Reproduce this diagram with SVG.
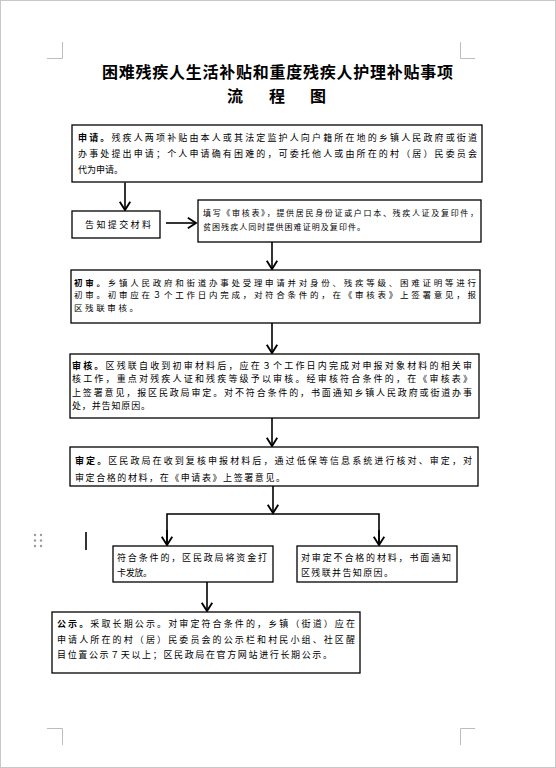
<svg xmlns="http://www.w3.org/2000/svg" width="556" height="768" viewBox="0 0 556 768">
<style>
.page{fill:#fff;stroke:#c8c8c8;stroke-width:1}
.crop{fill:none;stroke:#bdbdbd;stroke-width:1}
.box{fill:#fff;stroke:#000;stroke-width:1.3}
.t{font-family:"Noto Sans CJK SC","Noto Sans",sans-serif;fill:#000;font-size:9px}
.m{font-size:8.5px}
.s{font-size:8px}
.b{font-weight:bold}
.title{font-family:"Noto Sans CJK SC","Noto Sans",sans-serif;font-weight:bold;font-size:16px;fill:#000}
.c{fill:none;stroke:#000;stroke-width:1.6}
</style>
<defs>
<marker id="ah" markerUnits="userSpaceOnUse" markerWidth="14" markerHeight="14" viewBox="-10 -6 12 12" refX="0" refY="0" orient="auto">
<path d="M-7,-4.5 L0,0 L-7,4.5" fill="none" stroke="#000" stroke-width="1.6"/>
</marker>
</defs>
<rect class="page" x="0.5" y="0.5" width="555" height="767"/>
<g id="cropmarks">
<path class="crop" d="M62.5,42 V58.5 H47 M460.5,42 V58.5 H475 M62.5,745 V728.5 H47 M460.5,745 V728.5 H475"/>
</g>
<g id="title">
<text class="title" x="102" y="78" textLength="351" lengthAdjust="spacing">困难残疾人生活补贴和重度残疾人护理补贴事项</text>
<text class="title" x="227 269 310" y="102">流程图</text>
</g>
<g id="connectors">
<line class="c" x1="125" y1="182.5" x2="125" y2="210" marker-end="url(#ah)"/>
<line class="c" x1="166" y1="223" x2="196" y2="223" marker-end="url(#ah)"/>
<line class="c" x1="272" y1="242" x2="272" y2="269" marker-end="url(#ah)"/>
<line class="c" x1="272" y1="323" x2="272" y2="353" marker-end="url(#ah)"/>
<line class="c" x1="272" y1="418" x2="272" y2="446" marker-end="url(#ah)"/>
<line class="c" x1="273" y1="486" x2="273" y2="513" marker-end="url(#ah)"/>
<polyline class="c" points="167,545 167,514 379,514 379,545" stroke-width="1.4"/>
<line class="c" x1="167" y1="530" x2="167" y2="545" marker-end="url(#ah)"/>
<line class="c" x1="379" y1="530" x2="379" y2="545" marker-end="url(#ah)"/>
<line class="c" x1="207" y1="582" x2="207" y2="611" marker-end="url(#ah)"/>
</g>
<g id="n_apply">
<rect class="box" x="72" y="125" width="410" height="57"/>
<text class="t" x="78" y="140.5" textLength="399" lengthAdjust="spacing"><tspan class="b">申请。</tspan>残疾人两项补贴由本人或其法定监护人向户籍所在地的乡镇人民政府或街道</text>
<text class="t" x="78" y="156.5" textLength="399" lengthAdjust="spacing">办事处提出申请；个人申请确有困难的，可委托他人或由所在的村（居）民委员会</text>
<text class="t" x="78" y="172.5" textLength="45" lengthAdjust="spacing">代为申请。</text>
</g>
<g id="n_notify">
<rect class="box" x="72" y="211" width="88" height="27"/>
<text class="t" x="85" y="228" font-size="11" textLength="66" lengthAdjust="spacing">告知提交材料</text>
</g>
<g id="n_materials">
<rect class="box" x="198" y="200" width="283" height="42"/>
<text class="t s" x="203" y="216" textLength="275" lengthAdjust="spacing">填写《审核表》，提供居民身份证或户口本、残疾人证及复印件，</text>
<text class="t s" x="203" y="230" textLength="162" lengthAdjust="spacing">贫困残疾人同时提供困难证明及复印件。</text>
</g>
<g id="n_first">
<rect class="box" x="71" y="270" width="409" height="53"/>
<text class="t m" x="74" y="285.5" textLength="402" lengthAdjust="spacing"><tspan class="b">初审。</tspan>乡镇人民政府和街道办事处受理申请并对身份、残疾等级、困难证明等进行</text>
<text class="t m" x="74" y="298" textLength="402" lengthAdjust="spacing">初审。初审应在３个工作日内完成，对符合条件的，在《审核表》上签署意见，报</text>
<text class="t m" x="74" y="311" textLength="64" lengthAdjust="spacing">区残联审核。</text>
</g>
<g id="n_review">
<rect class="box" x="70" y="354" width="409" height="64"/>
<text class="t" x="72" y="369" textLength="400" lengthAdjust="spacing"><tspan class="b">审核。</tspan>区残联自收到初审材料后，应在３个工作日内完成对申报对象材料的相关审</text>
<text class="t" x="72" y="382" textLength="400" lengthAdjust="spacing">核工作，重点对残疾人证和残疾等级予以审核。经审核符合条件的，在《审核表》</text>
<text class="t" x="72" y="395.5" textLength="400" lengthAdjust="spacing">上签署意见，报区民政局审定。对不符合条件的，书面通知乡镇人民政府或街道办事</text>
<text class="t" x="72" y="409" textLength="78" lengthAdjust="spacing">处，并告知原因。</text>
</g>
<g id="n_approve">
<rect class="box" x="70" y="447" width="408" height="39"/>
<text class="t" x="75" y="463.5" textLength="397" lengthAdjust="spacing"><tspan class="b">审定。</tspan>区民政局在收到复核申报材料后，通过低保等信息系统进行核对、审定，对</text>
<text class="t" x="75" y="480.5" textLength="210" lengthAdjust="spacing">审定合格的材料，在《申请表》上签署意见。</text>
</g>
<g id="n_pass">
<rect class="box" x="113" y="546" width="160" height="36"/>
<text class="t" x="117" y="560.5" textLength="150" lengthAdjust="spacing">符合条件的，区民政局将资金打</text>
<text class="t" x="117" y="575.5" textLength="35" lengthAdjust="spacing">卡发放。</text>
</g>
<g id="n_fail">
<rect class="box" x="297" y="546" width="160" height="36"/>
<text class="t" x="301" y="560.5" textLength="150" lengthAdjust="spacing">对审定不合格的材料，书面通知</text>
<text class="t" x="301" y="575.5" textLength="92" lengthAdjust="spacing">区残联并告知原因。</text>
</g>
<g id="n_publicity">
<rect class="box" x="52" y="612" width="308" height="61"/>
<text class="t" x="57" y="626.5" textLength="298" lengthAdjust="spacing"><tspan class="b">公示。</tspan>采取长期公示。对审定符合条件的，乡镇（街道）应在</text>
<text class="t" x="57" y="643" textLength="298" lengthAdjust="spacing">申请人所在的村（居）民委员会的公示栏和村民小组、社区醒</text>
<text class="t" x="57" y="657.5" textLength="275" lengthAdjust="spacing">目位置公示７天以上；区民政局在官方网站进行长期公示。</text>
</g>
<g id="editor_marks">
<g fill="#9a9a9a">
<circle cx="35" cy="535" r="1.2"/><circle cx="41" cy="535" r="1.2"/>
<circle cx="35" cy="540.5" r="1.2"/><circle cx="41" cy="540.5" r="1.2"/>
<circle cx="35" cy="546" r="1.2"/><circle cx="41" cy="546" r="1.2"/>
</g>
<line x1="86" y1="532" x2="86" y2="550" stroke="#000" stroke-width="1.6"/>
</g>
</svg>
